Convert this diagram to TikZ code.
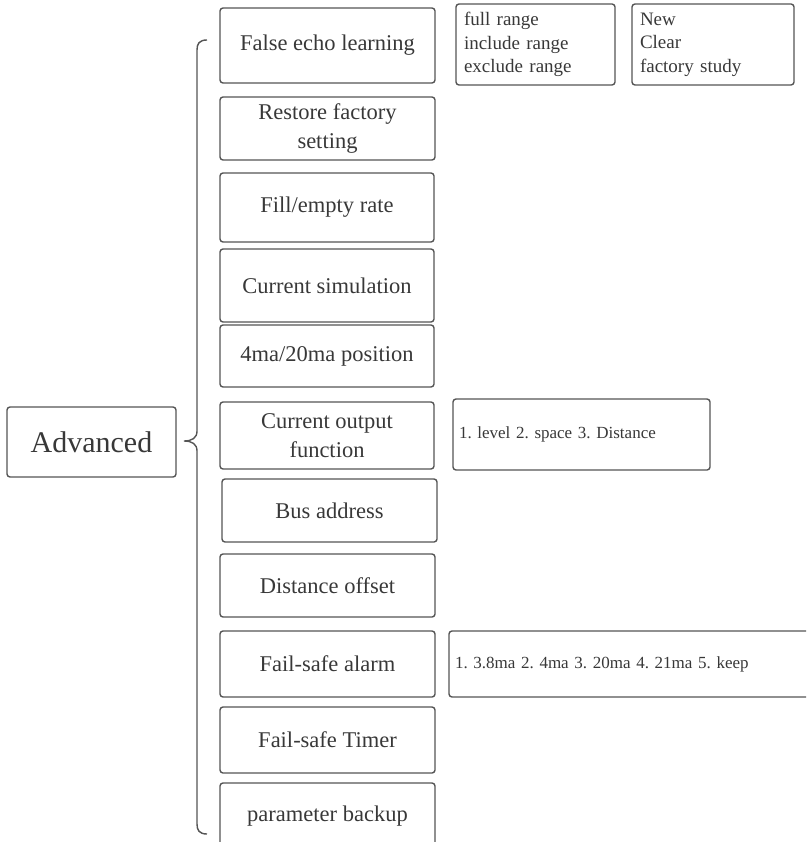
\documentclass[tikz,border=0pt]{standalone}
\usepackage{fontspec}
\setmainfont{Liberation Serif}
\definecolor{edge}{HTML}{555555}
\definecolor{ink}{HTML}{383838}
\begin{document}
\frenchspacing
\begin{tikzpicture}[x=1pt,y=-1pt,
  box/.style={draw=edge,line width=1.4pt,rounded corners=3pt,inner sep=0pt,
    text=ink,align=center,font=\fontsize{22.5}{29}\selectfont},
  sub/.style={draw=edge,line width=1.4pt,rounded corners=3pt,inner sep=0pt,
    text=ink,align=left,font=\fontsize{19}{23.5}\selectfont},
  opt/.style={draw=edge,line width=1.4pt,rounded corners=3pt,inner sep=0pt,
    text=ink,font=\fontsize{17}{21}\selectfont},
  brace/.style={draw=edge,line width=1.4pt}]
\useasboundingbox (0,0) rectangle (806,842);
\clip (0,0) rectangle (806,842);
% root
\node[box,font=\fontsize{30}{36}\selectfont,minimum width=169pt,minimum height=70pt] (adv) at (91.5,442) {Advanced};
% column of items
\node[box,minimum width=215pt,minimum height=75pt] (fe)  at (327.5,45.5) {False echo learning};
\node[box,minimum width=215pt,minimum height=63pt] (rf)  at (327.5,128.5) {Restore factory\\setting};
\node[box,minimum width=214pt,minimum height=69pt] (fr)  at (327,207.5) {Fill/empty rate};
\node[box,minimum width=214pt,minimum height=73pt] (cs)  at (327,285.5) {Current simulation};
\node[box,minimum width=214pt,minimum height=62pt] (pos) at (327,356) {4ma/20ma position};
\node[box,minimum width=214pt,minimum height=67pt] (cof) at (327,435.5) {Current output\\function};
\node[box,minimum width=215pt,minimum height=63pt] (bus) at (329.5,510.5) {Bus address};
\node[box,minimum width=215pt,minimum height=63pt] (dof) at (327.5,585.5) {Distance offset};
\node[box,minimum width=215pt,minimum height=66pt] (fsa) at (327.5,664) {Fail-safe alarm};
\node[box,minimum width=215pt,minimum height=66pt] (fst) at (327.5,740) {Fail-safe Timer};
\node[box,minimum width=215pt,minimum height=67pt] (pb)  at (327.5,816.5) {parameter backup};
% option boxes
\node[sub,minimum width=159pt,minimum height=81pt,text width=143pt] (rng) at (535.5,44.5) {full range\\include range\\exclude range};
\node[sub,minimum width=162pt,minimum height=81pt,text width=146pt] (new) at (713,44.5) {New\\Clear\\factory study};
\node[opt,minimum width=257pt,minimum height=71pt,text width=245pt,align=left] (lvl) at (581.5,434.5) {1. level 2. space 3. Distance};
\node[opt,minimum width=371pt,minimum height=66pt,text width=359pt,align=left] (alm) at (634.5,664) {1. 3.8ma 2. 4ma 3. 20ma 4. 21ma 5. keep};
% brace
\coordinate (bt) at (207,40);
\coordinate (bb) at (207,834);
\draw[brace] (bt) .. controls (199,40) and (197,44) .. (197,50)
  -- (197,431) .. controls (197,438) and (192,441) .. (184,441)
  .. controls (192,441) and (197,444) .. (197,451)
  -- (197,824) .. controls (197,830) and (199,834) .. (bb);
\end{tikzpicture}
\end{document}
